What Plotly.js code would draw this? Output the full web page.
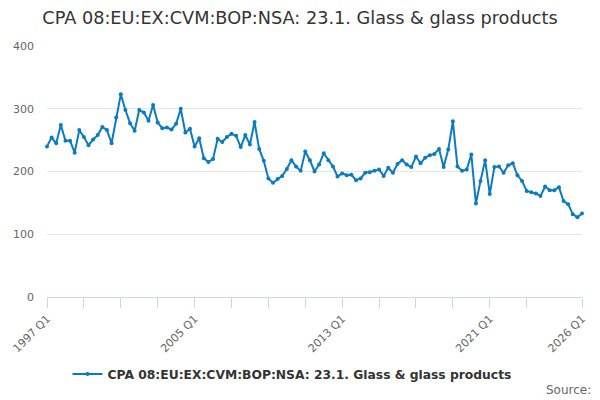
<!DOCTYPE html>
<html>
<head>
<meta charset="utf-8">
<script src="https://cdn.plot.ly/plotly-3.0.1.min.js"></script>
<style>html,body{margin:0;padding:0;background:#fff;}#chart{width:600px;height:400px;}</style>
</head>
<body>
<div id="chart"></div>
<script>
const seriesName = "CPA 08:EU:EX:CVM:BOP:NSA: 23.1. Glass & glass products";
const firstYear = 1997;
const lastYear = 2026;
const quarters = [];
for (let y = firstYear; y <= lastYear; y++) {
  for (let q = 1; q <= 4; q++) {
    if (y === lastYear && q > 1) break;
    quarters.push(y + " Q" + q);
  }
}
const values = [
  240, 254, 245, 274, 249, 249, 230, 266, 255, 242, 251, 258,
  271, 266, 245, 286, 323, 298, 277, 265, 298, 294, 281, 306,
  278, 269, 270, 267, 276, 300, 262, 268, 240, 253, 221, 215,
  220, 252, 247, 255, 260, 257, 239, 258, 243, 279, 236, 217,
  189, 182, 188, 193, 204, 218, 208, 201, 232, 218, 200, 211,
  229, 218, 208, 192, 197, 194, 195, 186, 189, 198, 199, 201,
  203, 193, 206, 198, 212, 218, 211, 207, 224, 213, 222, 226,
  228, 236, 207, 235, 280, 208, 201, 203, 227, 149, 185, 218,
  164, 207, 208, 198, 210, 213, 194, 185, 169, 167, 165, 161,
  176, 170, 170, 175, 153, 148, 132, 127, 133
];
const tickMarkYears = ["1997 Q1","1999 Q1","2001 Q1","2003 Q1","2005 Q1","2007 Q1","2009 Q1","2011 Q1","2013 Q1","2015 Q1","2017 Q1","2019 Q1","2021 Q1","2023 Q1","2026 Q1"];
const tickLabels = ["1997 Q1","2005 Q1","2013 Q1","2021 Q1","2026 Q1"];
const yTicks = [0, 100, 200, 300, 400];

const color = "#0a7bc2";
const trace = {
  x: quarters,
  y: values,
  type: "scatter",
  mode: "lines+markers",
  name: seriesName,
  line: {color: color, width: 2},
  marker: {color: color, size: 4},
  cliponaxis: false
};
const font = "DejaVu Sans, sans-serif";
const layout = {
  width: 600, height: 400,
  margin: {l: 47, r: 18, t: 46, b: 103},
  paper_bgcolor: "#fff", plot_bgcolor: "#fff",
  title: {text: "CPA 08:EU:EX:CVM:BOP:NSA: 23.1. Glass & glass products",
          font: {family: font, size: 17.7, color: "#333"}, x: 0.5, xanchor: "center", y: 0.955, yanchor: "middle"},
  showlegend: true,
  legend: {orientation: "h", x: 0.458, xanchor: "center", y: -0.307, yanchor: "middle",
           itemwidth: 30,
           font: {family: font, size: 12.3, color: "#333", weight: "bold"}},
  xaxis: {
    type: "category",
    automargin: false,
    range: [0, quarters.length - 1],
    tickmode: "array",
    tickvals: tickMarkYears,
    ticktext: tickMarkYears.map(t => tickLabels.includes(t) ? t : ""),
    tickangle: -45,
    ticks: "outside", ticklen: 10, tickcolor: "#ccd6eb", tickwidth: 1,
    showline: true, linecolor: "#ccd6eb", linewidth: 1,
    showgrid: false, zeroline: false,
    tickfont: {family: font, size: 11, color: "#666"}
  },
  yaxis: {
    automargin: false,
    range: [0, 400],
    tickmode: "array", tickvals: yTicks,
    showgrid: true, gridcolor: "#e6e6e6", gridwidth: 1,
    zeroline: false, showline: false, ticks: "",
    ticklabelstandoff: 12,
    tickfont: {family: font, size: 11, color: "#666"}
  },
  annotations: [{
    text: "Source:", xref: "paper", yref: "paper", x: 1.021, y: -0.372,
    xanchor: "right", yanchor: "middle", showarrow: false,
    font: {family: font, size: 12, color: "#666"}
  }]
};
Plotly.newPlot("chart", [trace], layout, {displayModeBar: false, staticPlot: true});
</script>
</body>
</html>
